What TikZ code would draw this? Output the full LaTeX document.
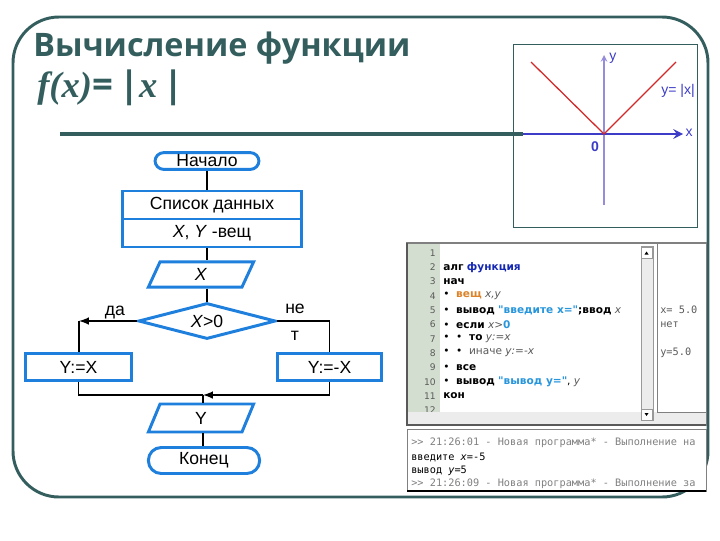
\documentclass[tikz,border=0pt]{standalone}
\usepackage{fontspec}
\setmainfont{Liberation Sans}
\newfontfamily\titlefont{Open Sans}
\newfontfamily\formfont{Liberation Serif}
\newfontfamily\codefont{DejaVu Sans}
\newfontfamily\consolefont{DejaVu Sans Mono}
\usetikzlibrary{shapes.geometric,positioning}

\definecolor{slate}{RGB}{52,94,94}
\definecolor{fcblue}{RGB}{30,128,220}
\definecolor{axisblue}{RGB}{60,60,200}
\definecolor{axislav}{RGB}{150,140,220}
\definecolor{graphred}{RGB}{210,40,40}
\definecolor{gutter}{RGB}{212,222,208}
\definecolor{panelgray}{RGB}{236,236,236}
\definecolor{kwblue}{RGB}{20,40,180}
\definecolor{strblue}{RGB}{40,150,220}
\definecolor{kworange}{RGB}{220,130,40}
\definecolor{vargray}{RGB}{90,90,90}

\newcommand{\kw}[1]{{\bfseries #1}}
\newcommand{\var}[1]{{\itshape\color{vargray}#1}}
\newcommand{\str}[1]{{\bfseries\color{strblue}#1}}

\begin{document}
\begin{tikzpicture}[x=0.025cm, y=-0.025cm,
	every node/.style={font=\fontsize{12.5}{14}\selectfont},
	proc/.style={draw=fcblue, line width=2.1pt, rectangle, inner sep=1pt},
	term/.style={proc},
	io/.style={proc, trapezium, trapezium left angle=52, trapezium right angle=128, trapezium stretches body, minimum width=2.63cm},
	cond/.style={proc, diamond, aspect=3.7, minimum width=3.43cm, minimum height=0.9cm},
	link/.style={line width=1.4pt},
	lnum/.style={anchor=east, inner sep=0pt, text=vargray, font=\codefont\fontsize{6.5}{7}\selectfont},
	codeline/.style={anchor=west, inner sep=0pt, font=\codefont\fontsize{7.5}{8}\selectfont},
	outline/.style={anchor=west, inner sep=0pt, text=vargray, font=\consolefont\fontsize{7.3}{8}\selectfont},
	conline/.style={anchor=west, inner sep=0pt, font=\consolefont\fontsize{7.3}{8}\selectfont}]
\useasboundingbox (0,0) rectangle (720,540);
\fill[white] (0,0) rectangle (720,540);

% slide frame and heading
\draw[slate, line width=2.1pt, rounded corners=1.15cm] (13,17) rectangle (708,497);
\node[anchor=base west, inner sep=0pt, text=slate, font=\titlefont\bfseries\fontsize{23}{26}\selectfont] (title) at (33,56) {Вычисление функции};
\node[anchor=base west, inner sep=0pt, text=slate, font=\fontsize{26}{28}\selectfont] (formula) at (37,97) {{\formfont\bfseries\itshape f(x)}{\titlefont\bfseries =\,|}{\formfont\bfseries\itshape x}{\titlefont\bfseries\,|}};
\draw[slate, line width=2.8pt] (60,134) -- (523,134);

% graph of y=|x|
\draw[slate, line width=0.6pt] (513,44) rectangle (697,227);
\coordinate (o) at (604,134);
\draw[axislav, line width=1.1pt, -stealth] (604,205) -- (604,55);
\draw[axisblue, line width=2pt, -stealth] (523,134) -- (683,134);
\draw[graphred, line width=0.9pt] (531,62) -- (o) -- (676,62);
\node[text=axisblue, inner sep=0pt, font=\fontsize{10}{11}\selectfont] (ylab) at (613,58) {y};
\node[text=axisblue, inner sep=0pt, font=\fontsize{10}{11}\selectfont] (xlab) at (689,133) {x};
\node[text=axisblue, inner sep=0pt, font=\bfseries\fontsize{10}{11}\selectfont] (zero) at (595,147) {0};
\node[text=axisblue, inner sep=0pt, font=\fontsize{10}{11}\selectfont] (flab) at (678,91) {y= |x|};

% flowchart
\node[term, minimum width=2.6cm, minimum height=0.42cm, rounded corners=0.22cm] (start) at (207,161) {Начало};
\node[proc, minimum width=4.48cm, minimum height=0.7cm] (list1) at (212,205) {Список данных};
\node[proc, minimum width=4.48cm, minimum height=0.7cm] (list2) at (212,233) {\textit{X}, \textit{Y} -вещ};
\node[io, minimum height=0.63cm] (inX) at (201,274.5) {\textit{X}};
\node[cond] (dec) at (207,321) {\textit{X}>0};
\node[proc, minimum width=2.65cm, minimum height=0.68cm] (yx) at (78.5,367) {Y:=X};
\node[proc, minimum width=2.6cm, minimum height=0.68cm] (ynx) at (329.5,367) {Y:=-X};
\node[io, minimum height=0.7cm] (outY) at (201,418) {Y};
\node[term, minimum width=2.78cm, minimum height=0.65cm, rounded corners=0.32cm] (end) at (204,460.5) {Конец};
\node (yes) at (115,313) {да};
\node[align=center, font=\fontsize{12.5}{19}\selectfont] (no) at (295,322) {не\\т};

\coordinate (cl) at (79,321);
\coordinate (m) at (203,395);
\draw[link] (start.south) -- (start.south |- list1.north);
\draw[link] (list2.south -| start) -- (inX.north -| start);
\draw[link] (inX.south -| start) -- (dec.north);
\draw[link, -latex] (dec.west) -- (cl);
\draw[link] (cl) -- (cl |- yx.north);
\draw[link] (dec.east) -| (ynx.north);
\draw[link] (yx.south) |- (m);
\draw[link, -latex] (ynx.south) |- (m);
\draw[link] (m) -- (outY.north -| m);
\draw[link] (outY.south -| m) -- (end.north -| m);

% program window
\draw[gray, fill=white, line width=0.8pt] (407,243) rectangle (706,425);
\fill[gutter] (407.5,243.5) rectangle (440,412);
\foreach \n in {1,...,12}
	\node[lnum] at (436,{253+(\n-1)*14.3}) {\n};
\node[codeline] (c2) at (443,267.3) {\kw{алг} {\bfseries\color{kwblue}функция}};
\node[codeline] (c3) at (443,281.6) {\kw{нач}};
\node[codeline] (c4) at (443,295.9) {\textbullet\ \ {\bfseries\color{kworange}вещ} \var{x,y}};
\node[codeline] (c5) at (443,310.2) {\textbullet\ \ \kw{вывод} \str{"введите x="}\kw{;ввод} \var{x}};
\node[codeline] (c6) at (443,324.5) {\textbullet\ \ \kw{если} \var{x>}{\bfseries\color{strblue}0}};
\node[codeline] (c7) at (443,338.8) {\textbullet\ \ \textbullet\ \ \kw{то} \var{y:=x}};
\node[codeline] (c8) at (443,353.1) {\textbullet\ \ \textbullet\ \ {\color{vargray}иначе} \var{y:=-x}};
\node[codeline] (c9) at (443,367.4) {\textbullet\ \ \kw{все}};
\node[codeline] (c10) at (443,381.7) {\textbullet\ \ \kw{вывод} \str{"вывод y="}, \var{y}};
\node[codeline] (c11) at (443,396) {\kw{кон}};
% scroll bars and output panel
\fill[panelgray] (407.5,412) rectangle (705.5,424.5);
\draw[gray!80, fill=panelgray, line width=0.5pt] (641,246) rectangle (653,420);
\draw[gray!80, fill=white, line width=0.5pt] (641,247) rectangle (652,258);
\fill[black] (644.5,254.5) -- (648.5,254.5) -- (646.5,251.5) -- cycle;
\draw[gray!80, fill=white, line width=0.5pt] (641,409) rectangle (652,420);
\fill[black] (644.5,413) -- (648.5,413) -- (646.5,416) -- cycle;
\draw[gray, fill=white, line width=0.6pt] (657,243) rectangle (706,412);
\node[outline] (o5) at (660,310.2) {x= 5.0};
\node[outline] (o6) at (660,324.5) {нет};
\node[outline] (o8) at (660,353.1) {y=5.0};
\draw[gray!70!black, line width=0.8pt] (407,243) -- (407,425) -- (706,425);

% console
\draw[gray, fill=white, line width=0.6pt] (407,429) rectangle (706,491);
\node[conline, text=gray] (r1) at (411,443) {>> 21:26:01 - Новая программа* - Выполнение на};
\node[conline] (r2) at (411,457) {введите \textit{x}=-5};
\node[conline] (r3) at (411,471) {вывод \textit{y}=5};
\node[conline, text=gray] (r4) at (411,484) {>> 21:26:09 - Новая программа* - Выполнение за};
\draw[black, line width=0.8pt] (407,491) -- (706,491);
\end{tikzpicture}
\end{document}
